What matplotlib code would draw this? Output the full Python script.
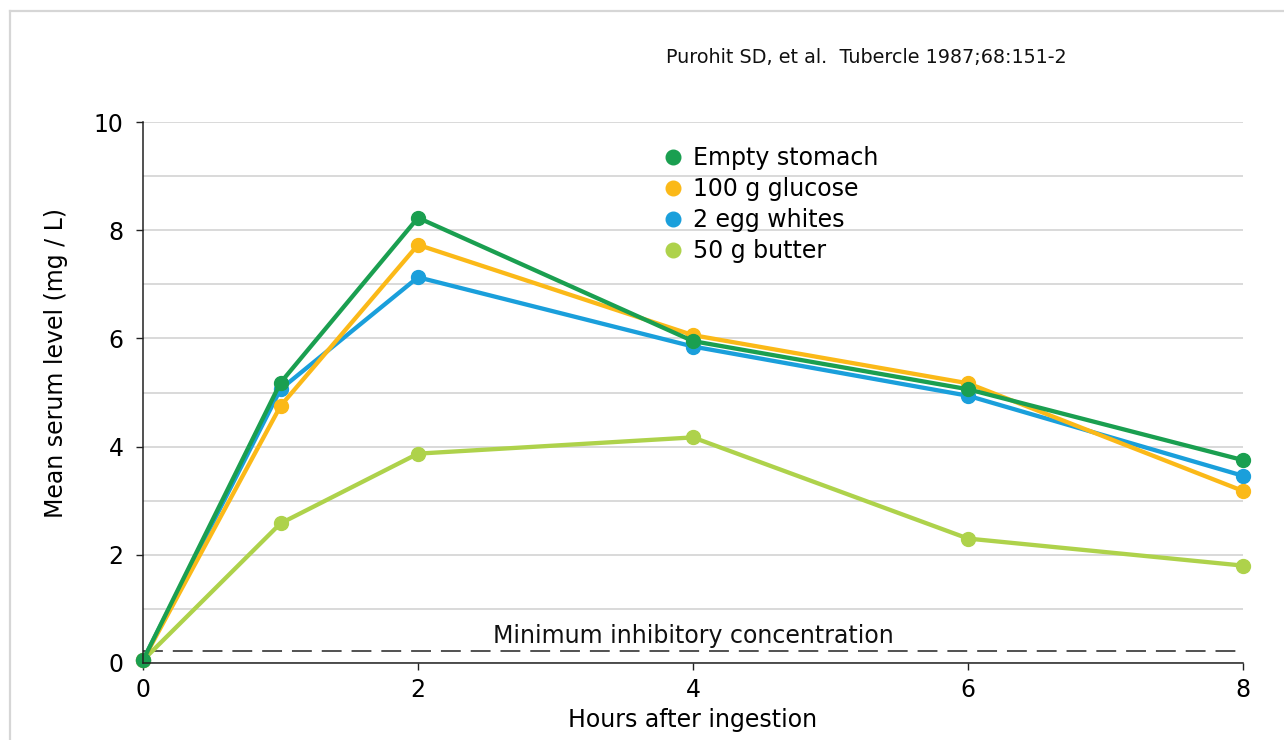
import matplotlib
matplotlib.use("Agg")
import matplotlib.pyplot as plt
from matplotlib.lines import Line2D
from matplotlib.ticker import MultipleLocator

# data
hours = [0, 1, 2, 4, 6, 8]
empty_stomach = [0.05, 5.18, 8.23, 5.95, 5.06, 3.75]
glucose = [0.05, 4.75, 7.73, 6.06, 5.17, 3.18]
egg_whites = [0.05, 5.06, 7.13, 5.85, 4.94, 3.46]
butter = [0.05, 2.58, 3.87, 4.17, 2.30, 1.80]
mic_level = 0.22

labels = ["Empty stomach", "100 g glucose", "2 egg whites", "50 g butter"]
colors = ["#1a9f50", "#fbb918", "#1a9fdb", "#aed24b"]

plt.rcParams['font.family'] = ['DejaVu Sans']

fig = plt.figure(figsize=(12.84, 7.40), dpi=100)
ax = fig.add_axes([143 / 1284, 1 - 663 / 740, 1100 / 1284, 541 / 740])

# light frame around the figure: only the top and left edges are in view
frame_x = 10 / 1284
frame_y = 1 - 11 / 740
fig.add_artist(Line2D([frame_x, 1.0], [frame_y, frame_y], transform=fig.transFigure,
                      color="#d6d6d6", linewidth=1.6))
fig.add_artist(Line2D([frame_x, frame_x], [0.0, frame_y], transform=fig.transFigure,
                      color="#d6d6d6", linewidth=1.6))

# draw in reverse so the empty stomach line sits on top
series = [empty_stomach, glucose, egg_whites, butter]
for vals, col in reversed(list(zip(series, colors))):
    ax.plot(hours, vals, color=col, linewidth=3.1, marker='o',
            markersize=10, clip_on=False, solid_joinstyle='round')

# minimum inhibitory concentration
mic_line = ax.axhline(mic_level, color="#222222", linewidth=1.1, zorder=1)
mic_line.set_dashes((13, 6.5))
ax.text(4, mic_level + 0.05, "Minimum inhibitory concentration",
        ha='center', va='bottom', fontsize=17, color="#111111")

ax.set_xlim(0, 8)
ax.set_ylim(0, 10)
ax.set_xticks([0, 2, 4, 6, 8])
ax.set_yticks([0, 2, 4, 6, 8, 10])
ax.yaxis.set_minor_locator(MultipleLocator(1))
ax.tick_params(axis='y', which='minor', length=0)
ax.tick_params(axis='both', which='major', labelsize=17, length=5,
               width=1.0, color="#222222", pad=6)
ax.tick_params(axis='y', which='major', pad=9)
ax.grid(axis='y', which='both', color="#d9d9d9", linewidth=1.4, zorder=0)
ax.set_axisbelow(True)

for s in ['top', 'right']:
    ax.spines[s].set_visible(False)
for s in ['left', 'bottom']:
    ax.spines[s].set_color("#222222")
    ax.spines[s].set_linewidth(1.1)

ax.set_xlabel("Hours after ingestion", fontsize=17, labelpad=4)
ax.set_ylabel("Mean serum level (mg / L)", fontsize=17)
ax.yaxis.set_label_coords(-0.068, 0.555)

handles = [Line2D([], [], linestyle='none', marker='o', markersize=10.5,
                  color=c) for c in colors]
ax.legend(handles, labels, loc='upper left',
          bbox_to_anchor=(665 / 1284, 1 - 146 / 740),
          bbox_transform=fig.transFigure, frameon=False, fontsize=17,
          handlelength=0.7, handletextpad=0.5, labelspacing=0.3,
          borderpad=0, borderaxespad=0)

fig.text(666 / 1284, 1 - 63 / 740, "Purohit SD, et al.  Tubercle 1987;68:151-2",
         fontsize=13.8, ha='left', va='baseline', color="#111111")

fig.savefig("out.png", dpi=100)
